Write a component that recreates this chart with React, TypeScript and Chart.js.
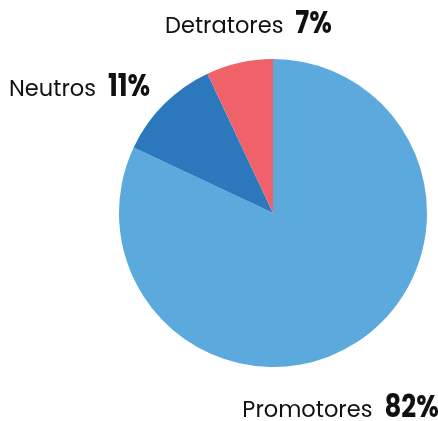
import React, { useEffect, useRef } from "react";
import { Chart, registerables } from "chart.js";

Chart.register(...registerables);

const categories = ["Promotores", "Neutros", "Detratores"];
const values = [82, 11, 7];
const percentLabels = ["82%", "11%", "7%"];
const colors = ["#5CA9DD", "#2B79BC", "#F0626A"];

const REG_FONT = "22.5px Poppins, 'Open Sans', 'Noto Sans', sans-serif";
const BOLD_FONT = "bold 31px Poppins, 'DejaVu Sans', sans-serif";
const BOLD_SCALE = 0.84;

// label start relative to pie centre, in radius units: [x, baselineY]
const labelPlacement: [number, number][] = [
  [-0.199, 1.325],
  [-1.714, -0.76],
  [-0.701, -1.169],
];

const labelPlugin = {
  id: "outerLabels",
  afterDraw(chart: any) {
    const ctx = chart.ctx;
    const meta = chart.getDatasetMeta(0);
    const arc = meta.data[0];
    if (!arc) return;
    const cx = arc.x;
    const cy = arc.y;
    const r = arc.outerRadius;
    ctx.save();
    ctx.fillStyle = "#111111";
    ctx.textBaseline = "alphabetic";
    ctx.textAlign = "left";
    categories.forEach((cat, i) => {
      const [px, py] = labelPlacement[i];
      ctx.font = REG_FONT;
      const w1 = ctx.measureText(cat).width;
      const gap = 12;
      const x0 = cx + px * r;
      const y = cy + py * r;
      ctx.fillText(cat, x0, y);
      ctx.font = BOLD_FONT;
      ctx.save();
      ctx.translate(x0 + w1 + gap, y);
      ctx.scale(BOLD_SCALE, 1);
      ctx.fillText(percentLabels[i], 0, 0);
      ctx.restore();
    });
    ctx.restore();
  },
};

export default function App() {
  const ref = useRef<HTMLCanvasElement | null>(null);
  useEffect(() => {
    if (!ref.current) return;
    const chart = new Chart(ref.current, {
      type: "pie",
      data: {
        labels: categories,
        datasets: [
          {
            data: values,
            backgroundColor: colors,
            borderWidth: 0,
          },
        ],
      },
      options: {
        animation: false,
        responsive: false,
        maintainAspectRatio: false,
        layout: { padding: { left: 119, right: 11, top: 59, bottom: 54 } },
        plugins: {
          legend: { display: false },
          tooltip: { enabled: false },
        },
      },
      plugins: [labelPlugin],
    });
    return () => chart.destroy();
  }, []);
  return (
    <div style={{ position: "fixed", left: 0, top: 0, width: 438, height: 421, background: "#fff" }}>
      <canvas ref={ref} width={438} height={421} style={{ width: 438, height: 421 }} />
    </div>
  );
}
